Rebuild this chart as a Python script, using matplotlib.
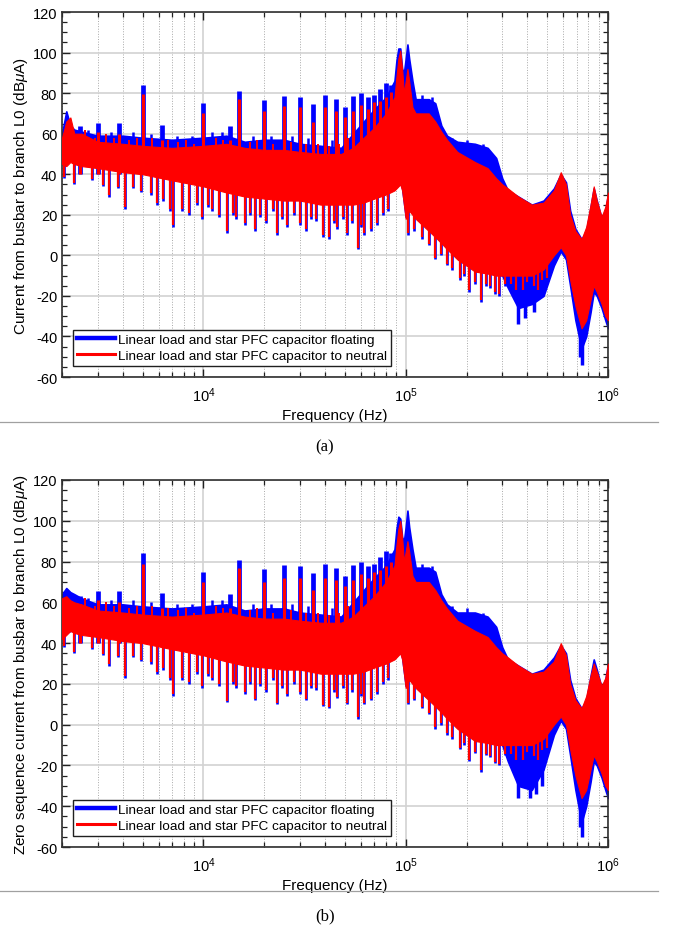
import numpy as np
import matplotlib
matplotlib.use('Agg')
import matplotlib.pyplot as plt
from matplotlib.lines import Line2D
from matplotlib.ticker import LogLocator, MultipleLocator, NullFormatter

plt.rcParams['font.family'] = ['Liberation Sans', 'DejaVu Sans']
plt.rcParams['mathtext.fontset'] = 'custom'
plt.rcParams['mathtext.rm'] = 'Liberation Sans'
plt.rcParams['mathtext.it'] = 'Liberation Sans:italic'
plt.rcParams['axes.unicode_minus'] = False

# envelope grid (Hz)
freq = [2000, 2100, 2200, 2300, 2500, 3000, 4000, 5000, 7000, 10000, 13000, 16000,
        20000, 25000, 30000, 38000, 48000, 55000, 62000, 70000, 80000, 88000, 90000,
        92000, 94000, 96000, 98000, 100000, 102000, 104000, 108000, 112000, 130000,
        140000, 150000, 160000, 180000, 220000, 254000, 280000, 300000, 320000, 360000,
        420000, 480000, 540000, 584000, 620000, 650000, 690000, 740000, 780000, 820000,
        850000, 880000, 930000, 970000, 1000000]

# (a) floating (blue)
a_blue_hi = [60, 71, 64, 62, 61, 59, 59, 58, 57, 58, 59, 56,
             57, 57, 55, 54, 53, 60, 66, 72, 78, 86, 96,
             102, 102, 92, 90, 97, 104, 97, 86, 77, 77,
             75, 64, 59, 56, 55, 53, 48, 38, 32, 29,
             25, 27, 33, 40, 36, 22, 13, 8, 12, 24,
             33, 27, 18, 22, 30]
a_blue_lo = [46, 45, 47, 46, 45, 44, 42, 41, 38, 35, 32, 30,
             29, 28, 28, 26, 26, 26, 27, 29, 31, 33, 34,
             35, 36, 33, 26, 19, 21, 23, 21, 19, 13,
             10, 7, 4, -1, -7, -8, -9, -10, -16, -26,
             -24, -20, -5, 2, -2, -15, -32, -46, -40, -28,
             -18, -20, -26, -32, -36]
# (a) to neutral (red)
a_red_hi = [58, 66, 68, 60, 60, 56, 55, 54, 53, 54, 55, 53,
            52, 52, 51, 50, 50, 53, 58, 63, 70, 78, 88,
            97, 101, 92, 80, 86, 92, 86, 73, 70, 70,
            66, 61, 57, 51, 46, 43, 38, 35, 33, 29,
            25, 26, 32, 41, 35, 20, 12, 8, 14, 25,
            34, 27, 19, 24, 31]
a_red_lo = [45, 44, 46, 45, 44, 43, 41, 40, 37, 34, 31, 29,
            28, 27, 27, 25, 25, 25, 26, 28, 30, 32, 33,
            34, 35, 32, 25, 18, 20, 22, 20, 18, 12,
            9, 6, 3, -2, -8, -9, -10, -10, -10, -10,
            -10, -7, 0, 4, 0, -12, -25, -36, -32, -22,
            -15, -18, -24, -30, -32]

# (b) floating (blue)
b_blue_hi = [64, 67, 65, 64, 62, 59, 59, 58, 57, 58, 59, 56,
             57, 57, 55, 54, 53, 60, 66, 72, 78, 86, 96,
             102, 101, 92, 90, 97, 105, 97, 86, 77, 77,
             75, 64, 59, 55, 55, 53, 48, 38, 32, 29,
             25, 27, 33, 39, 35, 22, 13, 8, 12, 24,
             32, 27, 18, 22, 30]
b_blue_lo = [43, 45, 46, 46, 45, 44, 42, 41, 38, 35, 32, 30,
             29, 28, 28, 26, 26, 26, 27, 29, 31, 33, 34,
             35, 36, 33, 26, 19, 21, 23, 21, 19, 13,
             10, 7, 4, -1, -7, -8, -9, -10, -18, -30,
             -32, -22, -5, 2, -2, -15, -32, -48, -40, -28,
             -18, -20, -26, -32, -36]
# (b) to neutral (red)
b_red_hi = [62, 63, 61, 60, 59, 56, 55, 54, 53, 54, 55, 53,
            52, 52, 51, 50, 50, 53, 58, 63, 70, 78, 88,
            96, 100, 92, 80, 85, 90, 85, 73, 70, 70,
            66, 61, 57, 51, 46, 43, 38, 35, 33, 29,
            25, 26, 31, 40, 34, 20, 12, 8, 14, 24,
            30, 26, 19, 23, 30]
b_red_lo = [42, 44, 46, 45, 44, 43, 41, 40, 37, 34, 31, 29,
            28, 27, 27, 25, 25, 25, 26, 28, 30, 32, 33,
            34, 35, 32, 25, 18, 20, 22, 20, 18, 12,
            9, 6, 3, -2, -8, -9, -10, -10, -10, -10,
            -10, -7, 0, 4, 0, -12, -25, -36, -32, -22,
            -15, -18, -24, -30, -32]

# harmonic spikes
harm_f = [5000, 10000, 15000, 20000, 25000, 30000, 35000, 40000, 45000,
          50000, 55000, 60000, 65000, 70000, 75000, 80000, 85000,
          2450, 3000, 3830, 6250, 13600]
a_harm_blue = [84, 75, 81, 76.5, 78.5, 78, 74.5, 79, 77,
               73, 78.5, 80, 78, 79, 82, 85, 84,
               64, 65.5, 65.5, 64.5, 64]
a_harm_red = [79.5, 70, 77, 71, 73.5, 73, 66, 73, 71,
              68, 71, 74, 72, 75.5, 76, 78, 80.5,
              59, 61, 60, 57, 57]
b_harm_blue = [84, 75, 81, 76.5, 78.5, 78, 74.5, 79, 77,
               73, 78.5, 80, 78, 79, 82, 85, 84,
               63, 65.5, 65.5, 64.5, 64]
b_harm_red = [79, 70, 77, 70, 72, 72, 66, 72, 71,
              68, 71, 74, 72, 75, 76, 78, 80,
              59, 61, 60, 57, 57]

# upward noise spikes of the blue trace
up_bf = [2700, 3500, 4500, 5500, 7400, 8800, 11000, 12300, 17500, 21500, 27500,
         33000, 43000, 52000, 120000, 135000, 170000, 200000, 240000]
up_blue = [62, 61, 61, 60, 59, 59, 61, 61, 59, 59, 59,
           58, 57, 58, 79, 78, 58, 57, 55]

# upward noise spikes of the red trace
up_f = [2600, 2900, 3300, 3600, 4300, 4700, 5600, 6700, 7500, 8200, 9000, 11500,
        12500, 17000, 18500, 22000, 27000, 32000, 37000, 42000, 47000, 52000]
up_red = [62, 58, 60, 58, 57, 58, 58, 57, 56, 57, 55, 58,
          57, 56, 57, 55, 56, 55, 55, 54, 55, 58]

# downward spikes of the red trace
dip_f = [2050, 2300, 2800, 3200, 3400, 3800, 4100, 4500, 4900, 5500, 5900, 6300,
         6800, 7100, 7800, 8500, 9300, 9800, 10500, 11000, 12000, 13100, 14000,
         14500, 16000, 17000, 18000, 19000, 20500, 22000, 23000, 24500, 26000, 28000,
         30000, 32000, 34000, 36000, 39000, 42000, 44000, 46000, 49000, 51000, 54000,
         58000, 60000, 62000, 67000, 72000, 77000, 82000, 103000, 110000, 120000,
         130000, 140000, 150000, 160000, 170000, 185000, 195000, 205000, 220000,
         236000, 250000, 260000, 275000, 290000, 310000, 330000, 350000, 380000,
         400000, 430000, 450000, 470000, 500000]
dip_red = [38, 35, 37, 34, 29, 33, 23, 33, 31, 30, 25, 27,
           22, 14, 22, 20, 25, 18, 24, 22, 19, 11, 20,
           18, 15, 20, 12, 19, 16, 22, 10, 18, 14, 20,
           15, 12, 18, 17, 9, 8, 16, 13, 18, 10, 16,
           3, 14, 10, 12, 15, 20, 22, 10, 12, 8,
           5, -2, 0, -5, -7, -12, -10, -18, -14,
           -23, -15, -16, -19, -20, -15, -15, -18, -18,
           -14, -16, -18, -13, -12]
# downward spikes of the blue trace
a_dip_bf = [357000, 390000, 430000, 725000, 745000]
a_dip_blue = [-34, -31, -28, -50, -54]
b_dip_bf = [357000, 410000, 440000, 470000, 725000, 745000]
b_dip_blue = [-36, -36, -34, -30, -50, -55]

BLUE = '#0000ff'
RED = '#ff0000'
labels = ['Linear load and star PFC capacitor floating',
          'Linear load and star PFC capacitor to neutral']
logf = np.log10(freq)


def draw_panel(ax, bhi, blo, rhi, rlo, hb, hr, dbf, dbv, ylab):
    ax.fill_between(freq, blo, bhi, color=BLUE, lw=1.2, edgecolor=BLUE, zorder=2)
    ax.vlines(harm_f, 40, hb, color=BLUE, lw=3.4, zorder=2)
    base_ub = np.interp(np.log10(up_bf), logf, bhi) - 3
    ax.vlines(up_bf, base_ub, up_blue, color=BLUE, lw=1.8, zorder=2)
    base_b = np.interp(np.log10(dbf), logf, blo) + 3
    ax.vlines(dbf, base_b, dbv, color=BLUE, lw=2.5, zorder=2)

    ax.fill_between(freq, rlo, rhi, color=RED, lw=0.8, edgecolor=RED, zorder=3)
    ax.vlines(harm_f, 40, hr, color=RED, lw=2.2, zorder=3)
    base_up = np.interp(np.log10(up_f), logf, rhi) - 3
    ax.vlines(up_f, base_up, up_red, color=RED, lw=1.4, zorder=3)
    base_r = np.interp(np.log10(dip_f), logf, rlo) + 3
    ax.vlines(dip_f, base_r, dip_red, color=BLUE, lw=1.9, zorder=2.5)
    ax.vlines(dip_f, base_r, np.array(dip_red) + 0.8, color=RED, lw=1.6, zorder=3)

    ax.set_xscale('log')
    ax.set_xlim(2000, 1e6)
    ax.set_ylim(-60, 120)
    ax.yaxis.set_major_locator(MultipleLocator(20))
    ax.yaxis.set_minor_locator(MultipleLocator(5))
    ax.xaxis.set_minor_locator(LogLocator(base=10, subs=np.arange(2, 10)))
    ax.xaxis.set_minor_formatter(NullFormatter())
    ax.set_axisbelow(True)
    ax.grid(True, which='major', color='#d2d2d2', lw=1.2, ls='-')
    ax.grid(True, which='minor', axis='x', color='#a8a8a8', lw=0.7, ls=':')
    ax.tick_params(which='both', direction='in', top=True, right=True,
                   labelsize=10.5, color='#202020')
    ax.tick_params(which='major', length=6, width=1.0)
    ax.tick_params(axis='x', which='major', pad=6)
    ax.tick_params(which='minor', length=3.5, width=0.9)
    for s in ax.spines.values():
        s.set_color('#303030')
        s.set_linewidth(1.2)
    ax.set_xlabel('Frequency (Hz)', fontsize=11, labelpad=3)
    ax.set_ylabel(ylab, fontsize=11, labelpad=2)
    handles = [Line2D([], [], color=BLUE, lw=3.2), Line2D([], [], color=RED, lw=2.2)]
    leg = ax.legend(handles, labels, loc='lower left', bbox_to_anchor=(0.02, 0.03),
                    borderaxespad=0, fontsize=9.7, frameon=True, fancybox=False,
                    edgecolor='#202020', framealpha=1, handlelength=2.8,
                    handletextpad=0.25, labelspacing=0.25, borderpad=0.3)
    leg.get_frame().set_linewidth(1.0)


fig = plt.figure(figsize=(6.78, 9.28), dpi=100)
ax1 = fig.add_axes([62 / 678, 1 - 378 / 928, 546 / 678, 365 / 928])
ax2 = fig.add_axes([62 / 678, 1 - 848 / 928, 546 / 678, 367 / 928])

draw_panel(ax1, a_blue_hi, a_blue_lo, a_red_hi, a_red_lo, a_harm_blue, a_harm_red,
           a_dip_bf, a_dip_blue, r'Current from busbar to branch L0 (dB$\mu$A)')
draw_panel(ax2, b_blue_hi, b_blue_lo, b_red_hi, b_red_lo, b_harm_blue, b_harm_red,
           b_dip_bf, b_dip_blue, r'Zero sequence current from busbar to branch L0 (dB$\mu$A)')

for yl in (423, 892):
    fig.add_artist(Line2D([0, 658 / 678], [1 - yl / 928] * 2, color='#a0a0a0', lw=0.9))
fig.text(325 / 678, 1 - 447 / 928, '(a)', family='Liberation Serif', fontsize=12,
         ha='center', va='center')
fig.text(325 / 678, 1 - 916 / 928, '(b)', family='Liberation Serif', fontsize=12,
         ha='center', va='center')

fig.savefig('out.png', dpi=100)
